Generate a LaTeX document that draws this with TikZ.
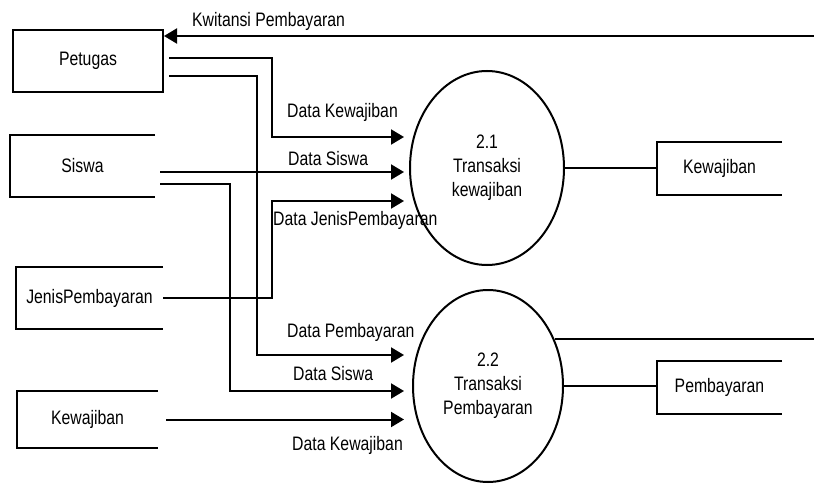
\documentclass[tikz,border=0pt]{standalone}
\usepackage{fontspec}
\setmainfont{Liberation Sans}[FakeStretch=0.81]
\usetikzlibrary{shapes.geometric,arrows.meta}

\begin{document}
\begin{tikzpicture}[x=1pt, y=-1pt, font=\fontsize{19.5}{24}\selectfont,
		entitas/.style={draw, line width=2pt, minimum width=150pt, minimum height=62pt, inner sep=0pt},
		simpan/.style={inner sep=0pt},
		proses/.style={draw, ellipse, line width=2pt, inner sep=0pt, align=center},
		alir/.style={line width=2pt, -{Triangle[length=13pt, width=15pt]}},
		garis/.style={line width=2pt},
		teks/.style={anchor=base west, inner sep=0pt}]
		\useasboundingbox (0,0) rectangle (814,484);

		% Entitas og penyimpanan
		\node[entitas] (petugas) at (88,61) {Petugas};
		\node[simpan, minimum width=145pt, minimum height=62pt] (siswa) at (82.5,166) {Siswa};
		\node[simpan, minimum width=147pt, minimum height=62pt] (jenis) at (89.5,298) {JenisPembayaran};
		\node[simpan, minimum width=141pt, minimum height=57pt] (kewkiri) at (87.5,419.5) {Kewajiban};
		\node[simpan, minimum width=125pt, minimum height=53pt] (kewkanan) at (719.5,168.5) {Kewajiban};
		\node[simpan, minimum width=125pt, minimum height=53pt] (bayar) at (719.5,387.5) {Pembayaran};
		\foreach \s in {siswa, jenis, kewkiri, kewkanan, bayar}
			\draw[garis] (\s.north east) -| (\s.south west) -- (\s.south east);

		% Proses
		\node[proses, minimum width=154pt, minimum height=194pt] (p21) at (487,168) {2.1\\Transaksi\\kewajiban};
		\node[proses, minimum width=150pt, minimum height=192pt] (p22) at (488,386) {2.2\\Transaksi\\Pembayaran};

		% Titik bantu
		\coordinate (m21) at ([xshift=-5pt]p21.west);
		\coordinate (m22) at ([xshift=-8pt]p22.west);
		\coordinate (kwitansi) at (814,36);
		\coordinate (keluar) at (814,340);

		% Aliran data
		\draw[alir] (kwitansi) -- (kwitansi -| petugas.east);
		\draw[alir] ([xshift=5pt,yshift=3pt]petugas.east) -| (272,137) -- (m21 |- 0,137);
		\draw[alir] ([xshift=5pt,yshift=-15pt]petugas.east) -| (257,355) -- (m22 |- 0,355);
		\draw[alir] ([xshift=5pt,yshift=-6pt]siswa.east) -- (m21 |- 0,172);
		\draw[alir] ([xshift=5pt,yshift=-18pt]siswa.east) -| (230,391) -- (m22 |- 0,391);
		\draw[alir] (jenis.east) -| (272,201) -- (m21 |- 0,201);
		\draw[alir] ([xshift=8pt]kewkiri.east) -- (m22 |- kewkiri.east);
		\draw[garis] (p21.east) -- (p21.east -| kewkanan.west);
		\draw[garis] (p22.east) -- (p22.east -| bayar.west);
		\draw[garis] (p22.35) -- (p22.35 -| keluar);

		% Label aliran
		\node[teks] (tkwitansi) at (192,27) {Kwitansi Pembayaran};
		\node[teks] (tdk1) at (287,118) {Data Kewajiban};
		\node[teks] (tds1) at (288,165) {Data Siswa};
		\node[teks] (tdj) at (273,225) {Data JenisPembayaran};
		\node[teks] (tdp) at (287,337) {Data Pembayaran};
		\node[teks] (tds2) at (293,380) {Data Siswa};
		\node[teks] (tdk2) at (292,450) {Data Kewajiban};
	\end{tikzpicture}
\end{document}
